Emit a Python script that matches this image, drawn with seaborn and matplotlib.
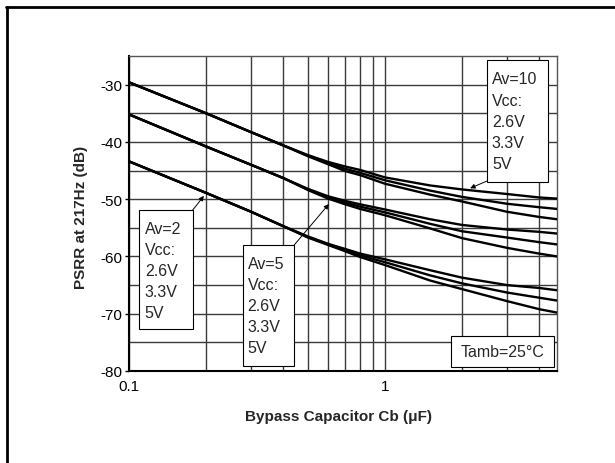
import numpy as np
import pandas as pd
import matplotlib
matplotlib.use("Agg")
import matplotlib.pyplot as plt
from matplotlib.patches import Rectangle
from matplotlib.lines import Line2D
from matplotlib.ticker import FixedLocator, NullFormatter
import seaborn as sns

# bypass capacitor values (uF) read at the gridlines
cb = [0.1, 0.2, 0.3, 0.4, 0.5, 0.6, 0.7, 0.8, 1.0, 1.5, 2.0, 3.0, 4.0, 4.7]

# PSRR at 217 Hz (dB), one list per curve
av10_26 = [-29.6, -35.0, -38.3, -40.6, -42.3, -43.5, -44.3, -44.9, -46.2, -47.6, -48.3, -49.1, -49.7, -49.9]
av10_33 = [-29.6, -35.0, -38.3, -40.6, -42.4, -43.7, -44.7, -45.4, -46.7, -48.5, -49.6, -50.8, -51.4, -51.7]
av10_5 = [-29.6, -35.0, -38.3, -40.6, -42.5, -43.9, -45.1, -45.8, -47.3, -49.2, -50.4, -52.2, -53.1, -53.5]

av5_26 = [-35.2, -40.8, -44.0, -46.3, -48.2, -49.5, -50.3, -50.9, -51.8, -53.5, -54.5, -55.3, -55.7, -56.0]
av5_33 = [-35.2, -40.8, -44.0, -46.3, -48.3, -49.7, -50.6, -51.3, -52.3, -54.3, -55.6, -56.7, -57.5, -57.9]
av5_5 = [-35.2, -40.8, -44.0, -46.3, -48.4, -49.9, -50.9, -51.7, -52.8, -55.1, -56.8, -58.5, -59.5, -60.0]

av2_26 = [-43.4, -48.9, -52.2, -54.7, -56.5, -57.8, -58.7, -59.5, -60.5, -62.4, -63.7, -65.0, -65.5, -65.9]
av2_33 = [-43.4, -48.9, -52.2, -54.7, -56.6, -57.9, -58.9, -59.8, -61.0, -63.3, -64.7, -66.3, -67.2, -67.7]
av2_5 = [-43.4, -48.9, -52.2, -54.7, -56.7, -58.0, -59.1, -60.1, -61.5, -64.2, -65.7, -67.8, -69.2, -69.8]

curves = {
    "Av=10 2.6V": av10_26, "Av=10 3.3V": av10_33, "Av=10 5V": av10_5,
    "Av=5 2.6V": av5_26, "Av=5 3.3V": av5_33, "Av=5 5V": av5_5,
    "Av=2 2.6V": av2_26, "Av=2 3.3V": av2_33, "Av=2 5V": av2_5,
}

y_ticks = [-80, -70, -60, -50, -40, -30]
y_minor = [-75, -65, -55, -45, -35]
x_ticks = [0.1, 1]
x_tick_labels = ["0.1", "1"]
x_minor = [0.2, 0.3, 0.4, 0.5, 0.6, 0.7, 0.8, 0.9, 2, 3, 4]

box_labels = {
    "av10": ["Av=10", "Vcc:", "2.6V", "3.3V", "5V"],
    "av2": ["Av=2", "Vcc:", "2.6V", "3.3V", "5V"],
    "av5": ["Av=5", "Vcc:", "2.6V", "3.3V", "5V"],
}

rows = []
for name, vals in curves.items():
    for c, v in zip(cb, vals):
        rows.append({"cb": c, "psrr": v, "curve": name})
df = pd.DataFrame(rows)

sns.set_style("white")
plt.rcParams['font.family'] = ['Liberation Sans', 'DejaVu Sans']
plt.rcParams['axes.unicode_minus'] = False

fig = plt.figure(figsize=(6.15, 4.64), dpi=100)
ax = fig.add_axes([129 / 615, 92 / 464, 428 / 615, 315 / 464])

sns.lineplot(data=df, x="cb", y="psrr", hue="curve", palette=["black"] * len(curves),
             legend=False, linewidth=1.7, ax=ax, zorder=3)

ax.set_xscale("log")
ax.set_xlim(0.1, 4.7)
ax.set_ylim(-80, -25)

ax.xaxis.set_major_locator(FixedLocator(x_ticks))
ax.set_xticklabels(x_tick_labels)
ax.xaxis.set_minor_locator(FixedLocator(x_minor))
ax.xaxis.set_minor_formatter(NullFormatter())
ax.yaxis.set_major_locator(FixedLocator(y_ticks))
ax.yaxis.set_minor_locator(FixedLocator(y_minor))
ax.tick_params(axis="x", which="both", length=0, labelsize=11, pad=6, colors="black")
ax.tick_params(axis="y", which="major", length=3, width=1, labelsize=11, pad=2, left=True,
               colors="black")
ax.tick_params(axis="y", which="minor", length=0)

ax.grid(True, which="both", color="#3a3a3a", linewidth=1.0, zorder=1)
ax.set_axisbelow(True)
for side in ["top", "right"]:
    ax.spines[side].set_color("#555555")
    ax.spines[side].set_linewidth(1.0)
for side in ["left", "bottom"]:
    ax.spines[side].set_color("black")
    ax.spines[side].set_linewidth(1.5)

ax.set_xlabel("Bypass Capacitor Cb (\u03bcF)", fontsize=11, fontweight="bold")
ax.set_ylabel("PSRR at 217Hz (dB)", fontsize=11, fontweight="bold")
ax.xaxis.set_label_coords(0.49, -0.12)
ax.yaxis.set_label_coords(-0.096, 0.49)


def add_box(x0, y0, x1, y1):
    ax.add_patch(Rectangle((x0, y0), x1 - x0, y1 - y0, transform=ax.transAxes,
                           facecolor="white", edgecolor="black", linewidth=0.8,
                           zorder=5, clip_on=False))


def add_lines(lines, x, y_top, step=0.0667):
    for i, s in enumerate(lines):
        ax.text(x, y_top - i * step, s, transform=ax.transAxes, fontsize=11.5,
                ha="left", va="center", zorder=6)


def add_arrow(start, tip):
    ax.annotate("", xy=tip, xytext=start, xycoords="axes fraction",
                textcoords="axes fraction",
                arrowprops=dict(arrowstyle="-|>", color="black", lw=0.7,
                                mutation_scale=7, shrinkA=0, shrinkB=0),
                zorder=6)


# Av=10 box
add_box(0.836, 0.601, 0.979, 0.988)
add_lines(box_labels["av10"], 0.848, 0.927)
add_arrow((0.836, 0.603), (0.797, 0.580))

# Av=2 box
add_box(0.023, 0.133, 0.149, 0.511)
add_lines(box_labels["av2"], 0.037, 0.453)
add_arrow((0.149, 0.511), (0.175, 0.556))

# Av=5 box
add_box(0.266, 0.017, 0.386, 0.400)
add_lines(box_labels["av5"], 0.277, 0.340)
add_arrow((0.386, 0.400), (0.467, 0.530))

# temperature box
add_box(0.752, 0.014, 0.993, 0.110)
ax.text(0.873, 0.061, "Tamb=25\u00b0C", transform=ax.transAxes, fontsize=11.5,
        ha="center", va="center", zorder=6)

# outer frame of the figure panel
fig.add_artist(Line2D([6 / 615, 1.0], [1 - 7.5 / 464, 1 - 7.5 / 464],
                      transform=fig.transFigure, color="black", linewidth=2))
fig.add_artist(Line2D([6.5 / 615, 6.5 / 615], [0.0, 1 - 7.5 / 464],
                      transform=fig.transFigure, color="black", linewidth=2))

fig.savefig("out.png", dpi=100)
plt.close(fig)
